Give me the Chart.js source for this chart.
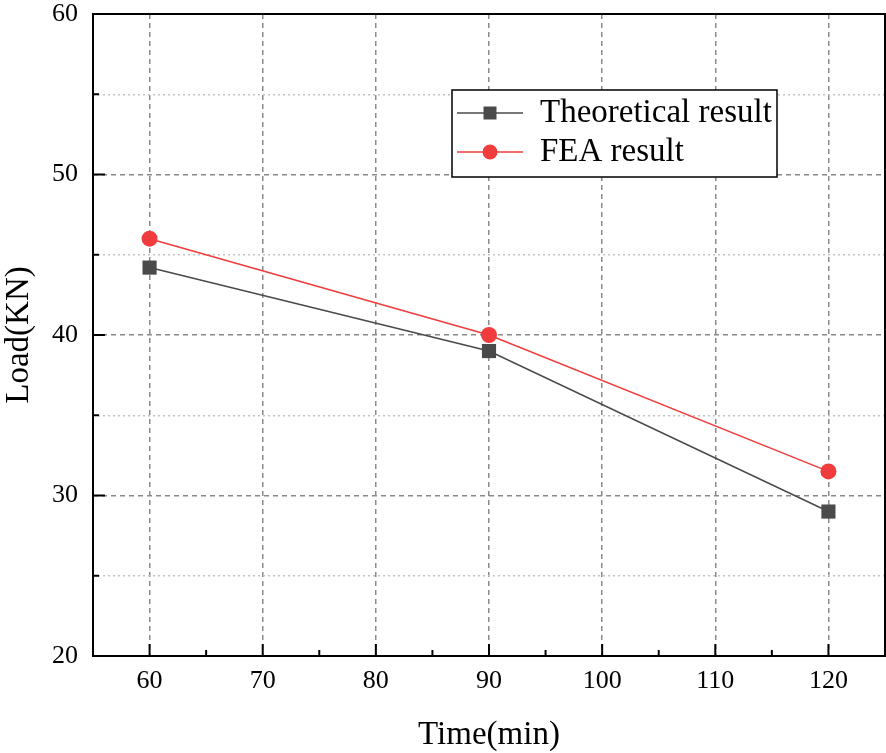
<!DOCTYPE html>
<html>
<head>
<meta charset="utf-8">
<script src="https://cdn.jsdelivr.net/npm/chart.js@4"></script>
<style>
	html, body { margin: 0; padding: 0; background: #fff; }
	#wrap { width: 886px; height: 753px; }
</style>
</head>
<body>
<div id="wrap"><canvas id="chart" width="886" height="753"></canvas></div>
<script>
// data
var times = [60, 90, 120];
var theoretical = [44.2, 39.0, 29.0];
var fea = [46.0, 40.0, 31.5];
var seriesNames = ['Theoretical result', 'FEA result'];
var xTicks = [60, 70, 80, 90, 100, 110, 120];
var yTicks = [20, 30, 40, 50, 60];

var serif = "'Liberation Serif', 'Times New Roman', serif";

function toPoints(xs, ys) {
	var pts = [];
	for (var i = 0; i < xs.length; i++) {
		pts.push({x: xs[i], y: ys[i]});
	}
	return pts;
}

function isMajor(v) {
	return Math.abs(v % 10) < 1e-6;
}

// frame, inward tick marks and the boxed legend
var decorPlugin = {
	id: 'decor',
	afterDatasetsDraw: function(chart) {
		var ctx = chart.ctx;
		var area = chart.chartArea;
		var xs = chart.scales.x;
		var ys = chart.scales.y;
		ctx.save();
		ctx.strokeStyle = '#000';
		ctx.lineWidth = 2;
		ctx.setLineDash([]);
		ctx.strokeRect(area.left, area.top, area.right - area.left, area.bottom - area.top);

		ctx.lineWidth = 2;
		xs.ticks.forEach(function(t) {
			if (t.value <= xs.min || t.value >= xs.max) return;
			var px = xs.getPixelForValue(t.value);
			var len = isMajor(t.value) ? 12 : 6;
			ctx.beginPath();
			ctx.moveTo(px, area.bottom);
			ctx.lineTo(px, area.bottom - len);
			ctx.stroke();
		});
		ys.ticks.forEach(function(t) {
			if (t.value <= ys.min || t.value >= ys.max) return;
			var py = ys.getPixelForValue(t.value);
			var len = isMajor(t.value) ? 12 : 6;
			ctx.beginPath();
			ctx.moveTo(area.left, py);
			ctx.lineTo(area.left + len, py);
			ctx.stroke();
		});

		// legend box
		var bx = 452, by = 90, bw = 325, bh = 87;
		ctx.fillStyle = '#fff';
		ctx.fillRect(bx, by, bw, bh);
		ctx.lineWidth = 1.5;
		ctx.strokeStyle = '#000';
		ctx.strokeRect(bx, by, bw, bh);
		var rows = [113, 152];
		chart.data.datasets.forEach(function(ds, i) {
			var ry = rows[i];
			ctx.strokeStyle = ds.borderColor;
			ctx.lineWidth = ds.borderWidth;
			ctx.beginPath();
			ctx.moveTo(457, ry);
			ctx.lineTo(523, ry);
			ctx.stroke();
			ctx.fillStyle = ds.pointBackgroundColor;
			if (ds.pointStyle === 'rect') {
				ctx.fillRect(490 - 6.5, ry - 6.5, 13, 13);
			} else {
				ctx.beginPath();
				ctx.arc(490, ry, 7.5, 0, Math.PI * 2);
				ctx.fill();
			}
			ctx.fillStyle = '#000';
			ctx.font = '33px ' + serif;
			ctx.textBaseline = 'middle';
			ctx.textAlign = 'left';
			ctx.fillText(ds.label, 540, ry);
		});
		ctx.restore();
	}
};

var ctx = document.getElementById('chart').getContext('2d');
var chart = new Chart(ctx, {
	type: 'line',
	data: {
		datasets: [
			{
				label: seriesNames[0],
				data: toPoints(times, theoretical),
				borderColor: '#4a4a4a',
				borderWidth: 1.5,
				pointStyle: 'rect',
				pointRadius: 10,
				pointBackgroundColor: '#4a4a4a',
				pointBorderWidth: 0,
				tension: 0
			},
			{
				label: seriesNames[1],
				data: toPoints(times, fea),
				borderColor: '#f03c3c',
				borderWidth: 1.5,
				pointStyle: 'circle',
				pointRadius: 8,
				pointBackgroundColor: '#f03c3c',
				pointBorderWidth: 0,
				tension: 0
			}
		]
	},
	options: {
		responsive: false,
		animation: false,
		layout: {
			autoPadding: false,
			padding: {top: 14, right: 1, left: 0, bottom: 0}
		},
		plugins: {
			legend: {display: false},
			tooltip: {enabled: false}
		},
		scales: {
			x: {
				type: 'linear',
				min: 55,
				max: 125,
				afterFit: function(scale) {
					scale.height = 97;
					scale.paddingLeft = 0;
					scale.paddingRight = 0;
				},
				ticks: {
					stepSize: 5,
					autoSkip: false,
					maxRotation: 0,
					padding: 0,
					color: '#000',
					font: {family: serif, size: 26},
					callback: function(v) {
						return xTicks.indexOf(v) >= 0 ? String(v) : '';
					}
				},
				grid: {
					drawTicks: true,
					tickLength: 10,
					tickColor: 'rgba(0,0,0,0)',
					lineWidth: 1.5,
					color: function(c) {
						if (!c.tick) return 'rgba(0,0,0,0)';
						return xTicks.indexOf(c.tick.value) >= 0 ? '#8a8a8a' : 'rgba(0,0,0,0)';
					}
				},
				border: {
					display: false,
					dash: [5, 4]
				},
				title: {
					display: true,
					text: 'Time(min)',
					color: '#000',
					padding: 0,
					font: {family: serif, size: 33, lineHeight: 1.1}
				}
			},
			y: {
				min: 20,
				max: 60,
				afterFit: function(scale) {
					scale.width = 93;
					scale.paddingTop = 0;
					scale.paddingBottom = 0;
				},
				ticks: {
					stepSize: 5,
					autoSkip: false,
					padding: 15,
					color: '#000',
					font: {family: serif, size: 26},
					callback: function(v) {
						return yTicks.indexOf(v) >= 0 ? String(v) : '';
					}
				},
				grid: {
					drawTicks: false,
					lineWidth: 1.5,
					color: function(c) {
						if (!c.tick) return 'rgba(0,0,0,0)';
						return isMajor(c.tick.value) ? '#8a8a8a' : '#c4c4c4';
					}
				},
				border: {
					display: false,
					dash: function(c) {
						if (!c.tick) return [];
						return isMajor(c.tick.value) ? [5, 4] : [2, 3];
					}
				},
				title: {
					display: true,
					text: 'Load(KN)',
					color: '#000',
					padding: 0,
					font: {family: serif, size: 33, lineHeight: 1.2}
				}
			}
		}
	},
	plugins: [decorPlugin]
});
</script>
</body>
</html>
